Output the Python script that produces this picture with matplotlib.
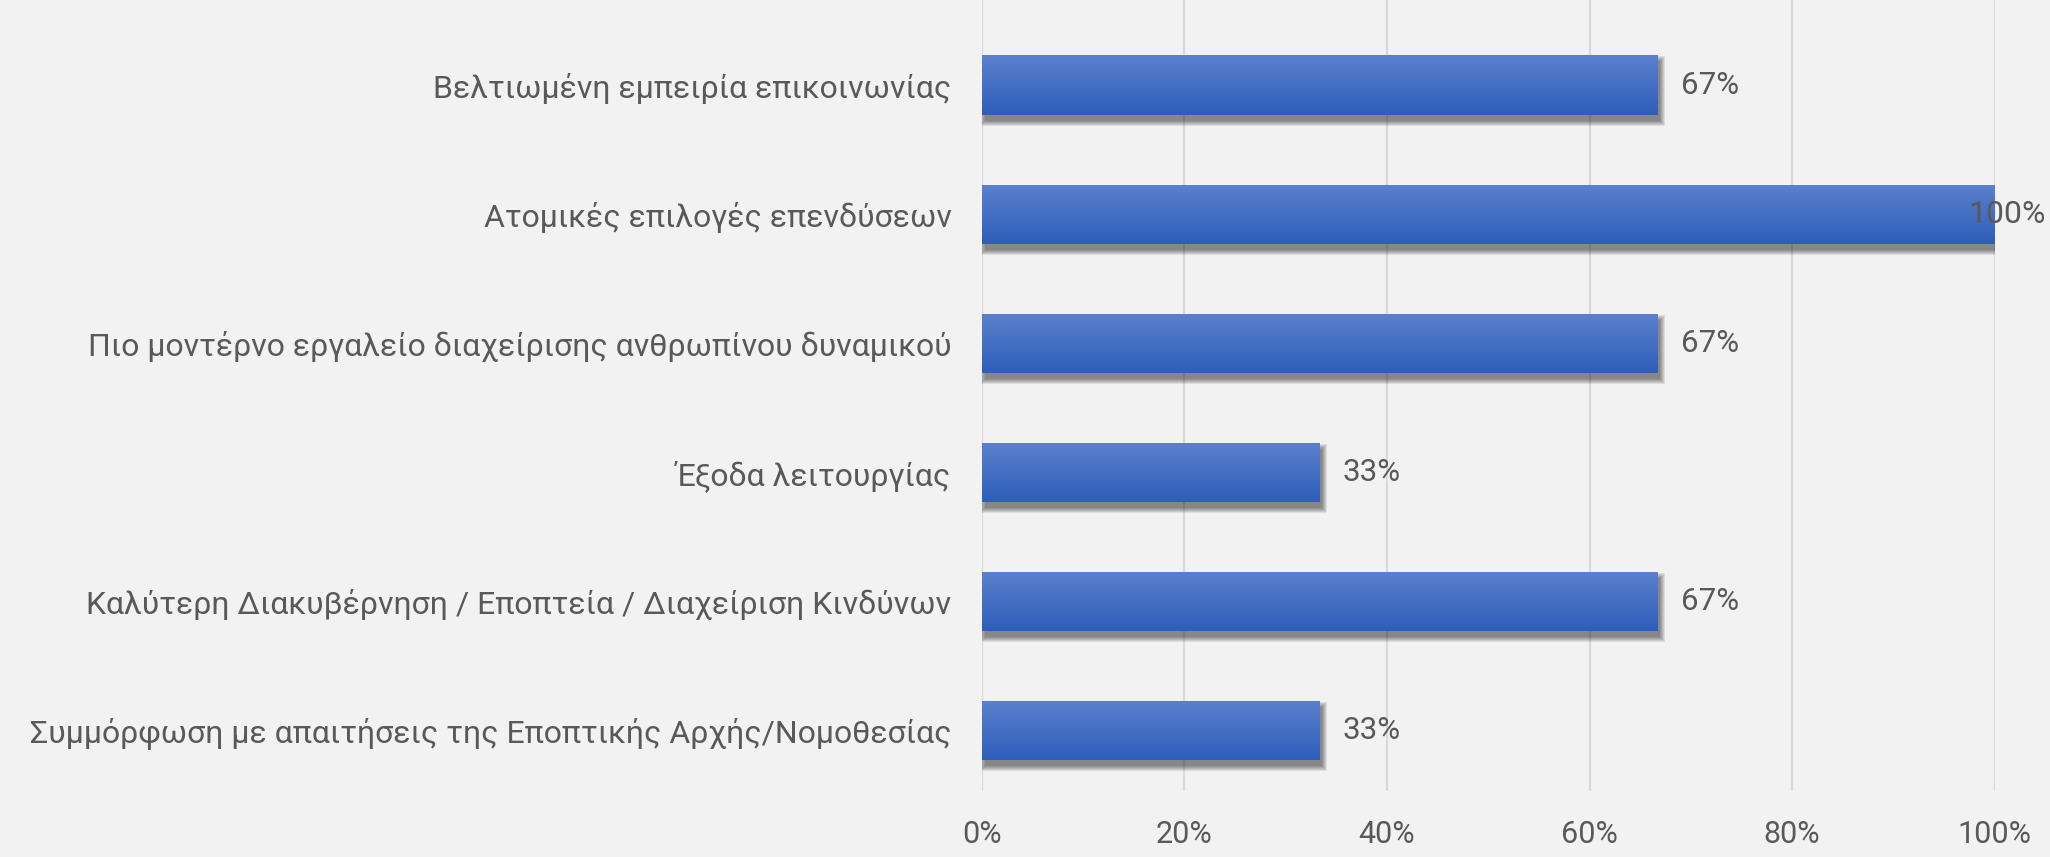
import numpy as np
import matplotlib
matplotlib.use("Agg")
import matplotlib.pyplot as plt
from matplotlib.patches import Rectangle

plt.rcParams['font.family'] = ['Roboto', 'DejaVu Sans']

categories = [
    "Βελτιωμένη εμπειρία επικοινωνίας",
    "Ατομικές επιλογές επενδύσεων",
    "Πιο μοντέρνο εργαλείο διαχείρισης ανθρωπίνου δυναμικού",
    "Έξοδα λειτουργίας",
    "Καλύτερη Διακυβέρνηση / Εποπτεία / Διαχείριση Κινδύνων",
    "Συμμόρφωση με απαιτήσεις της Εποπτικής Αρχής/Νομοθεσίας",
]
values = [0.667, 1.0, 0.667, 0.333, 0.667, 0.333]
xticks = [0, 0.2, 0.4, 0.6, 0.8, 1.0]
xtick_labels = ["0%", "20%", "40%", "60%", "80%", "100%"]

bg = "#F2F2F2"
text_col = "#595959"
grid_col = "#D9D9D9"
bar_h = 0.46

fig = plt.figure(figsize=(20.5, 8.57), dpi=100, facecolor=bg)
ax = fig.add_axes([0.479, 0.077, 0.494, 0.923])
ax.set_facecolor(bg)

n = len(categories)
pos = np.arange(n)
ylo, yhi = n - 0.53, -0.66
ax.set_xlim(0, 1)
ax.set_ylim(ylo, yhi)

# pixel -> data scale
fig.canvas.draw()
bb = ax.get_window_extent()
px_x = 1.0 / bb.width
px_y = (ylo - yhi) / bb.height

# vertical gradient, light on top
top = np.array([0x5B, 0x80, 0xCE]) / 255
bot = np.array([0x2E, 0x5E, 0xBA]) / 255
t = np.linspace(0, 1, 64)[:, None]
grad = (top * (1 - t) + bot * t)[:, None, :]

for y, v in zip(pos, values):
    # soft shadow, mostly below the bar
    for r in range(6):
        sh = Rectangle((3 * px_x - r * px_x, y - bar_h / 2 + 6 * px_y - r * px_y),
                       v + 2 * r * px_x, bar_h + 2 * r * px_y,
                       facecolor="black", edgecolor="none", alpha=0.09, zorder=2)
        ax.add_patch(sh)
    rect = Rectangle((0, y - bar_h / 2), v, bar_h, facecolor="none", edgecolor="none", zorder=3)
    ax.add_patch(rect)
    im = ax.imshow(grad, extent=(0, v, y + bar_h / 2, y - bar_h / 2), aspect="auto",
                   interpolation="bilinear", zorder=3)
    im.set_clip_path(rect)
    if v < 0.95:
        ax.annotate(f"{v:.0%}", (v, y), xytext=(17, 0), textcoords="offset points",
                    ha="left", va="center", fontsize=22.5, color=text_col, zorder=5)
    else:
        ax.annotate(f"{v:.0%}", (1, y), xytext=(37, 0), textcoords="offset points",
                    ha="right", va="center", fontsize=23, color=text_col, zorder=5,
                    annotation_clip=False)

ax.set_ylim(ylo, yhi)
ax.set_xlim(0, 1)

ax.set_xticks(xticks)
ax.set_xticklabels(xtick_labels, fontsize=22, color=text_col)
ax.set_yticks(pos)
ax.set_yticklabels(categories, fontsize=23, color=text_col)
ax.tick_params(axis="x", length=0, pad=21)
ax.tick_params(axis="y", length=0, pad=22)
ax.grid(axis="x", color=grid_col, linewidth=1.6)
ax.set_axisbelow(True)
for s in ax.spines.values():
    s.set_visible(False)

fig.savefig("out.png", dpi=100, facecolor=bg)
